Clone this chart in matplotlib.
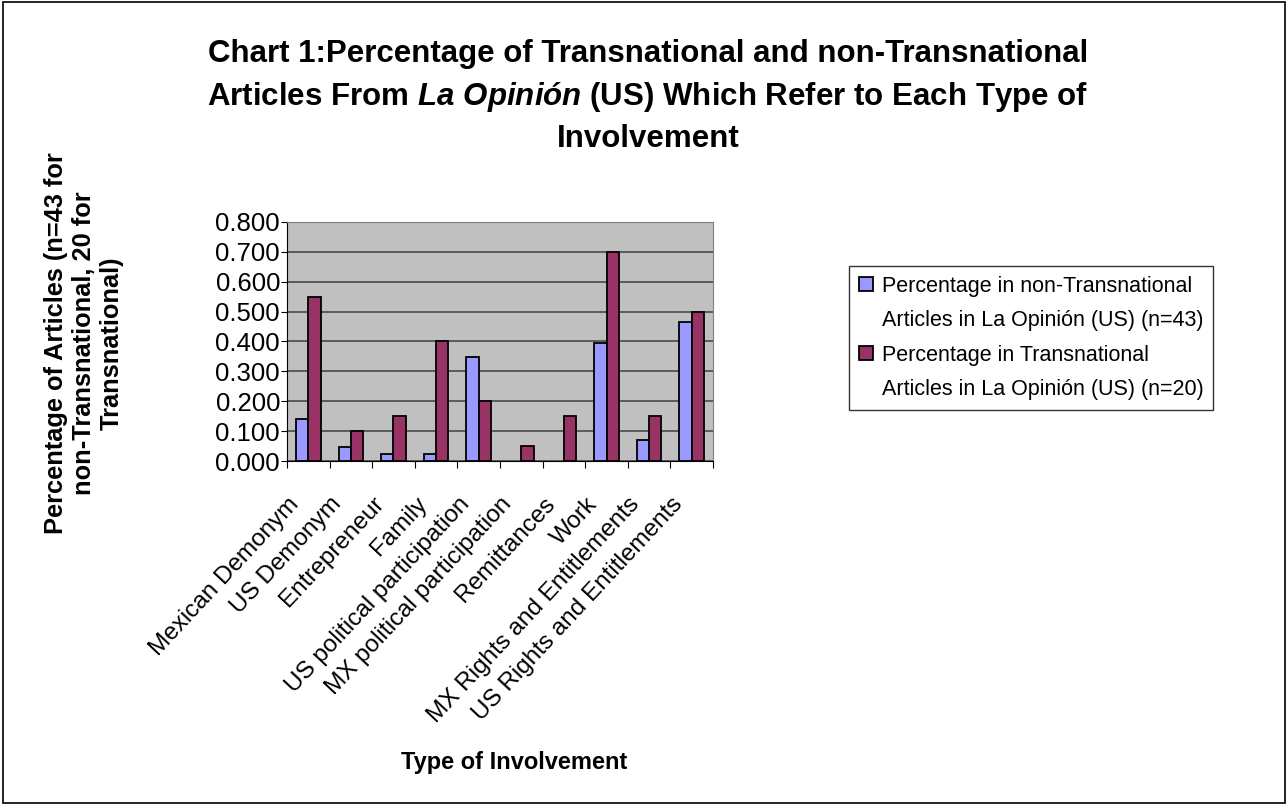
import matplotlib.pyplot as plt
import matplotlib.patches as patches
from matplotlib.transforms import ScaledTranslation
import numpy as np

plt.rcParams['font.family'] = ['Liberation Sans', 'DejaVu Sans']
plt.rcParams['mathtext.fontset'] = 'custom'
plt.rcParams['mathtext.it'] = 'Liberation Sans:italic:bold'
plt.rcParams['mathtext.rm'] = 'Liberation Sans:bold'

categories = ['Mexican Demonym', 'US Demonym', 'Entrepreneur', 'Family',
              'US political participation', 'MX political participation',
              'Remittances', 'Work', 'MX Rights and Entitlements',
              'US Rights and Entitlements']
non_trans = [0.140, 0.047, 0.023, 0.023, 0.349, 0.0, 0.0, 0.395, 0.070, 0.465]
trans = [0.55, 0.10, 0.15, 0.40, 0.20, 0.05, 0.15, 0.70, 0.15, 0.50]
yticks = [0.0, 0.1, 0.2, 0.3, 0.4, 0.5, 0.6, 0.7, 0.8]
label_non = ['Percentage in non-Transnational', 'Articles in La Opinión (US) (n=43)']
label_tr = ['Percentage in Transnational', 'Articles in La Opinión (US) (n=20)']

fig = plt.figure(figsize=(12.88, 8.05), dpi=100)
ax = fig.add_axes([0.2228, 0.4273, 0.3308, 0.297])
ax.set_facecolor('#C0C0C0')

x = np.arange(len(categories))
w = 0.29
b1 = ax.bar(x - w / 2, non_trans, w, color='#9999FF', edgecolor='black', linewidth=1.3, zorder=3)
b2 = ax.bar(x + w / 2, trans, w, color='#993366', edgecolor='black', linewidth=1.3, zorder=3)
# zero-height bars are not drawn
for p in list(b1) + list(b2):
    if p.get_height() == 0:
        p.set_visible(False)

ax.set_xlim(-0.5, len(categories) - 0.5)
ax.set_ylim(0, 0.8)
ax.set_yticks(yticks)
ax.set_yticklabels(['%.3f' % v for v in yticks], fontsize=18.5)
ax.yaxis.grid(True, color='#4a4a4a', linewidth=1.2, zorder=0)

ax.set_xticks(np.arange(len(categories) + 1) - 0.5)
ax.set_xticklabels([])
ax.set_xticks(x, minor=True)
ax.set_xticklabels(categories, minor=True, rotation=47, ha='right',
                   rotation_mode='anchor', fontsize=17.5)
ax.tick_params(axis='x', which='minor', length=0, pad=23)
ax.tick_params(axis='x', which='major', length=5, direction='out')
ax.tick_params(axis='y', length=4, direction='out', pad=1)
shift = ScaledTranslation(-0.21, 0, fig.dpi_scale_trans)
for lab in ax.get_xticklabels(minor=True):
    lab.set_transform(lab.get_transform() + shift)

for s in ['top', 'right']:
    ax.spines[s].set_color('#808080')
for s in ['left', 'bottom']:
    ax.spines[s].set_color('black')

fig.text(0.503, 0.880,
         'Chart 1:Percentage of Transnational and non-Transnational\n'
         r'Articles From $\it{La\ Opinión}$ (US) Which Refer to Each Type of' + '\nInvolvement',
         ha='center', va='center', fontsize=22.5, fontweight='bold', linespacing=1.45)

fig.text(0.065, 0.574, 'Percentage of Articles (n=43 for\nnon-Transnational, 20 for\nTransnational)',
         rotation=90, ha='center', va='center', fontsize=18.3, fontweight='bold',
         linespacing=1.2)
fig.text(0.399, 0.053, 'Type of Involvement', ha='center', va='center',
         fontsize=17, fontweight='bold')

# legend: square next to the first line of each two-line label
blank = patches.Rectangle((0, 0), 1, 1, fill=False, edgecolor='none', visible=False)
leg = ax.legend([b1[0], blank, b2[0], blank], label_non + label_tr,
                loc='center left', bbox_to_anchor=(1.32, 0.515), fontsize=15.5,
                frameon=True, fancybox=False, edgecolor='black',
                handlelength=0.65, handleheight=0.65, handletextpad=0.4,
                borderpad=0.45, labelspacing=0.62, borderaxespad=0)
leg.get_frame().set_linewidth(1.0)

fig.patches.append(patches.Rectangle((0.002, 0.003), 0.996, 0.994, transform=fig.transFigure,
                                     fill=False, edgecolor='black', linewidth=1.2))

fig.savefig('out.png', dpi=100)
